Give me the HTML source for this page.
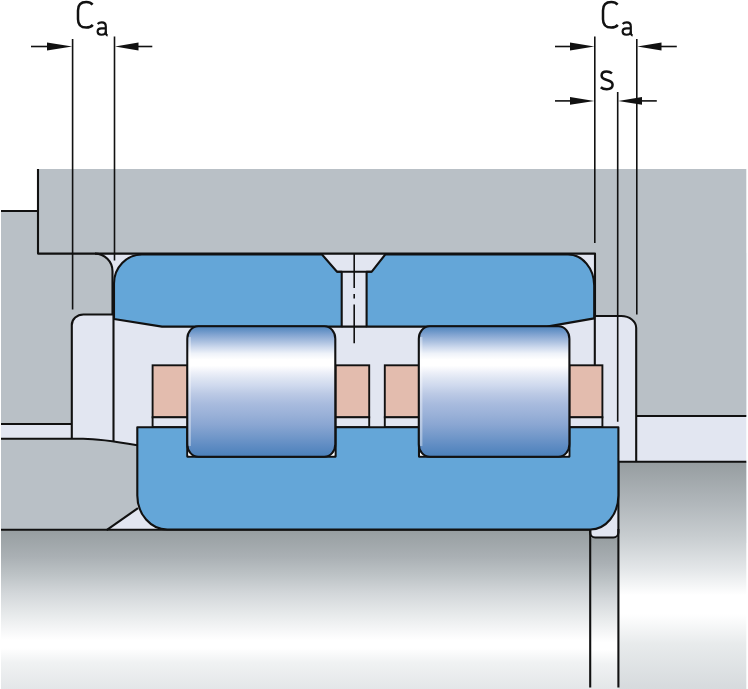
<!DOCTYPE html>
<html>
<head>
<meta charset="utf-8">
<title>Bearing axial clearance</title>
<style>
html,body{margin:0;padding:0;background:#fff;}
body{width:748px;height:689px;overflow:hidden;font-family:"Liberation Sans",sans-serif;}
svg{display:block;}
</style>
</head>
<body>
<svg width="748" height="689" viewBox="0 0 748 689">
<defs>
  <linearGradient id="shaft" x1="0" y1="0" x2="0" y2="1">
    <stop offset="0" stop-color="#969da0"/>
    <stop offset="0.03" stop-color="#9aa1a4"/>
    <stop offset="0.17" stop-color="#aab0b4"/>
    <stop offset="0.278" stop-color="#bcc2c5"/>
    <stop offset="0.40" stop-color="#d3d7da"/>
    <stop offset="0.523" stop-color="#e6e9ea"/>
    <stop offset="0.616" stop-color="#f4f5f6"/>
    <stop offset="0.69" stop-color="#ffffff"/>
    <stop offset="0.74" stop-color="#ffffff"/>
    <stop offset="0.83" stop-color="#f0f2f3"/>
    <stop offset="1" stop-color="#e3e6e8"/>
  </linearGradient>
  <linearGradient id="shoulder" x1="0" y1="0" x2="0" y2="1">
    <stop offset="0" stop-color="#969da0"/>
    <stop offset="0.178" stop-color="#b0b6ba"/>
    <stop offset="0.33" stop-color="#c8cdd0"/>
    <stop offset="0.48" stop-color="#e5e8ea"/>
    <stop offset="0.587" stop-color="#ffffff"/>
    <stop offset="0.67" stop-color="#ffffff"/>
    <stop offset="0.80" stop-color="#e8ebec"/>
    <stop offset="1" stop-color="#d6dadd"/>
  </linearGradient>
  <linearGradient id="roller" x1="0" y1="0" x2="0" y2="1">
    <stop offset="0" stop-color="#5486bf"/>
    <stop offset="0.022" stop-color="#5e8ec3"/>
    <stop offset="0.069" stop-color="#85a6d2"/>
    <stop offset="0.116" stop-color="#a9bfdf"/>
    <stop offset="0.162" stop-color="#cdd9ed"/>
    <stop offset="0.209" stop-color="#eef2f9"/>
    <stop offset="0.256" stop-color="#ffffff"/>
    <stop offset="0.302" stop-color="#ffffff"/>
    <stop offset="0.357" stop-color="#eceff8"/>
    <stop offset="0.403" stop-color="#dde4f2"/>
    <stop offset="0.45" stop-color="#d0daee"/>
    <stop offset="0.516" stop-color="#bccae5"/>
    <stop offset="0.595" stop-color="#a8bbde"/>
    <stop offset="0.676" stop-color="#9ab1d8"/>
    <stop offset="0.755" stop-color="#8aa6d2"/>
    <stop offset="0.838" stop-color="#7499ca"/>
    <stop offset="0.916" stop-color="#5f8cc3"/>
    <stop offset="1" stop-color="#4a80ba"/>
  </linearGradient>
</defs>

<!-- background -->
<rect x="0" y="0" width="748" height="689" fill="#ffffff"/>
<!-- lavender cavity -->
<rect x="0" y="253" width="746.3" height="290" fill="#e2e6f1"/>

<!-- shaft -->
<rect x="0" y="529.7" width="590" height="160" fill="url(#shaft)"/>
<rect x="590.2" y="537.5" width="28.4" height="152" fill="url(#shaft)"/>
<rect x="618.4" y="461.7" width="127.9" height="227.5" fill="url(#shoulder)"/>

<!-- housing -->
<path d="M38,169 H746.3 V416 H636.2 V328 A15,12 0 0 0 621.2,316 H595 V253.6 H38 Z" fill="#b9c0c6"/>
<!-- left cover -->
<path d="M0,211 H38 V253.6 H95 A17.5,17.5 0 0 1 112.5,271.1 V314.5 H83.4 A11.6,10.5 0 0 0 71.8,325 V424 H0 Z" fill="#b9c0c6"/>
<!-- lower-left sleeve -->
<path d="M0,438.8 H83 Q100,438.8 137.3,445.3 V508.6 L107.3,529.7 H0 Z" fill="#b9c0c6"/>

<g fill="none" stroke="#111" stroke-width="2.1" stroke-linejoin="round" stroke-linecap="butt">
  <!-- housing lines -->
  <path d="M38,169 V253.6 H595 V316"/>
  <path d="M636.2,416 H746.3"/>
  <path d="M0,211 H38"/>
  <path d="M95,253.6 A17.5,17.5 0 0 1 112.5,271.1 V314.5"/>
  <path d="M113,314.5 H83.4 A11.6,10.5 0 0 0 71.8,325 V438.8"/>
  <path d="M0,424 H71.8"/>
  <path d="M0,438.8 H83 Q100,438.8 137.3,445.3"/>
  <path d="M138,508.1 L106.6,530.2"/>
  <path d="M0,529.7 H590"/>
  <path d="M590.2,529.7 V687.5"/>
  <path d="M590.2,529.7 V532.5 A5,5 0 0 0 595.2,537.5 H613.4 A5,5 0 0 0 618.4,532.5 V529"/>
  <path d="M618.4,461.7 V687.5"/>
  <path d="M618.4,461.7 H746.3"/>
  <path d="M595,316 H621.2 A15,12 0 0 1 636.2,328 V461.7"/>
  <path d="M113.5,314.5 V441"/>
  <path d="M594.8,316 V365"/>
</g>

<!-- outer ring -->
<g fill="#64a6d8" stroke="#111" stroke-width="2.1" stroke-linejoin="round">
  <path d="M142,254.5 A28,29 0 0 0 114,283.5 V319 L162,326.6 H341.7 V271.7 H337 L322,254.5 Z"/>
  <path d="M385.2,254.5 H568 A26.2,31 0 0 1 594.2,285.5 V318.4 L547,326.6 H366.6 V271.7 H371.8 Z"/>
  <!-- inner ring -->
  <path d="M137.3,427.2 H187.3 V456.6 H335.6 V427.2 H419 V456.6 H569.4 V427.2 H618.4 V495.5 A28,34 0 0 1 590.4,529.5 H167.3 A30,34 0 0 1 137.3,495.5 Z"/>
</g>

<!-- cages -->
<g stroke="#111" stroke-width="1.9">
  <rect x="152.6" y="365.3" width="35" height="52" fill="#e3bcae"/>
  <rect x="152.6" y="417.3" width="35" height="9.7" fill="#e2e6f1"/>
  <rect x="335.6" y="365.3" width="33.6" height="52" fill="#e3bcae"/>
  <rect x="335.6" y="417.3" width="33.6" height="9.7" fill="#e2e6f1"/>
  <rect x="384.8" y="365.3" width="34.2" height="52" fill="#e3bcae"/>
  <rect x="384.8" y="417.3" width="34.2" height="9.7" fill="#e2e6f1"/>
  <rect x="569.4" y="365.3" width="33" height="52" fill="#e3bcae"/>
  <rect x="569.4" y="417.3" width="33" height="9.7" fill="#e2e6f1"/>
</g>

<!-- groove relief (white) -->
<g fill="#ffffff">
  <rect x="188.3" y="444" width="146" height="11.6"/>
  <rect x="420" y="444" width="148.4" height="11.6"/>
</g>
<!-- rollers -->
<g stroke="#111" stroke-width="2.1" fill="url(#roller)">
  <rect x="187.3" y="326.2" width="148" height="130.6" rx="11" ry="12.5"/>
  <rect x="418.8" y="326.2" width="150.6" height="130.6" rx="11" ry="12.5"/>
</g>

<!-- channel closing lines -->
<path d="M337,271.7 H371.8 M341.7,326.6 H366.6" stroke="#111" stroke-width="2.1" fill="none"/>
<!-- roller edge highlight -->
<g fill="none" stroke="#ffffff" stroke-opacity="0.38" stroke-width="2.4">
  <path d="M189.7,337 V446"/>
  <path d="M421.2,337 V446"/>
</g>
<!-- centre line -->
<path d="M354.2,254 V288 M354.2,294 V298.6 M354.2,304.5 V343.3" stroke="#111" stroke-width="1.6" fill="none"/>

<!-- dimension lines -->
<g stroke="#111" stroke-width="1.6" fill="none">
  <path d="M72.6,39 V309.5"/>
  <path d="M114.5,36.5 V260.5"/>
  <path d="M594.8,36.5 V243"/>
  <path d="M617.7,92 V421.7"/>
  <path d="M636.8,39 V314.5"/>
  <path d="M31,46.5 H60"/>
  <path d="M128,46.5 H152.3"/>
  <path d="M555,46.5 H580"/>
  <path d="M650,46.5 H676.8"/>
  <path d="M555,100.9 H580"/>
  <path d="M630,100.9 H656.8"/>
</g>
<g fill="#111" stroke="none">
  <path d="M72.2,46.5 L47,42.6 V50.4 Z"/>
  <path d="M115,46.5 L138.5,42.6 V50.4 Z"/>
  <path d="M594.3,46.5 L570,42.6 V50.4 Z"/>
  <path d="M637.3,46.5 L661.5,42.6 V50.4 Z"/>
  <path d="M594.3,100.9 L570,97 V104.8 Z"/>
  <path d="M618.2,100.9 L642,97 V104.8 Z"/>
</g>

<!-- labels -->
<g fill="none" stroke="#111" stroke-width="2.5" stroke-linecap="butt" stroke-linejoin="round">
  <g>
    <path d="M92.6,4.6 C91.2,2.9 89.2,2 86.3,2 C81,2 78,5.2 78,10.4 V19.2 C78,24.4 81,27.6 86.3,27.6 C89.2,27.6 91.3,26.7 92.8,24.9"/>
    <path stroke-width="2.15" d="M97.7,24 C98.6,22.9 100,22.4 101.8,22.4 C104.6,22.4 105.8,23.8 105.8,26.4 V33 C105.8,34.4 106.3,35.2 107.6,35.6"/>
    <path stroke-width="2.15" d="M105.8,28.3 H101.6 C99,28.3 97.6,29.4 97.6,31.5 C97.6,33.6 98.9,34.7 101.3,34.7 C103.6,34.7 105.8,33.8 105.8,31.4"/>
  </g>
  <g transform="translate(525,0)">
    <path d="M92.6,4.6 C91.2,2.9 89.2,2 86.3,2 C81,2 78,5.2 78,10.4 V19.2 C78,24.4 81,27.6 86.3,27.6 C89.2,27.6 91.3,26.7 92.8,24.9"/>
    <path stroke-width="2.15" d="M97.7,24 C98.6,22.9 100,22.4 101.8,22.4 C104.6,22.4 105.8,23.8 105.8,26.4 V33 C105.8,34.4 106.3,35.2 107.6,35.6"/>
    <path stroke-width="2.15" d="M105.8,28.3 H101.6 C99,28.3 97.6,29.4 97.6,31.5 C97.6,33.6 98.9,34.7 101.3,34.7 C103.6,34.7 105.8,33.8 105.8,31.4"/>
  </g>
  <path d="M612,73.4 C610.6,72.2 608.9,71.5 606.6,71.5 C603.4,71.5 601.6,73 601.6,75.6 C601.6,78 603,79.1 606.9,80 C611,81 612.6,82.2 612.6,84.8 C612.6,87.5 610.5,89.2 606.8,89.2 C604.3,89.2 602.4,88.6 600.8,87.2"/>
</g>
<rect x="0" y="0" width="1" height="689" fill="#fff"/>
</svg>
</body>
</html>
